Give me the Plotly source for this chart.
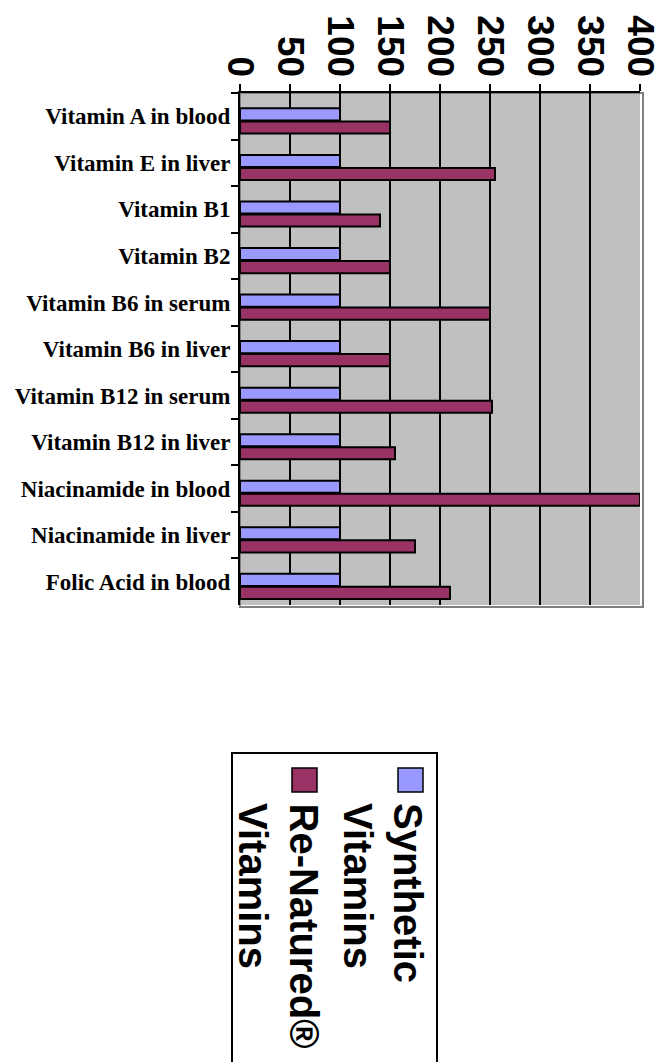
import plotly.graph_objects as go

categories = [
    "Vitamin A in blood", "Vitamin E in liver", "Vitamin B1", "Vitamin B2",
    "Vitamin B6 in serum", "Vitamin B6 in liver", "Vitamin B12 in serum",
    "Vitamin B12 in liver", "Niacinamide in blood", "Niacinamide in liver",
    "Folic Acid in blood",
]
synthetic = [100, 100, 100, 100, 100, 100, 100, 100, 100, 100, 100]
renatured = [150, 255, 140, 150, 250, 150, 252, 155, 400, 175, 210]
tick_vals = [0, 50, 100, 150, 200, 250, 300, 350, 400]
series_names = ["Synthetic", "Re-Natured®"]
legend_lines = [["Synthetic", "Vitamins"], ["Re-Natured®", "Vitamins"]]

BLUE = "#9999FF"
MAROON = "#993366"
OFF = 8  # page body margin
W, H = 667 - OFF, 1062 - OFF
# plot area in screen pixels
SL, SR, ST, SB = 240, 640, 93, 605
L, R, T, B = SL - OFF, SR - OFF, ST - OFF, SB - OFF


def px(x):
    return (x - SL) / (SR - SL)


def py(y):
    return (SB - y) / (SB - ST)


fig = go.Figure()
fig.add_trace(go.Bar(y=categories, x=synthetic, orientation="h", name=series_names[0],
                     width=0.26, offset=-0.17,
                     marker=dict(color=BLUE, line=dict(color="black", width=2))))
fig.add_trace(go.Bar(y=categories, x=renatured, orientation="h", name=series_names[1],
                     width=0.26, offset=0.11,
                     marker=dict(color=MAROON, line=dict(color="black", width=2))))

fig.update_layout(
    width=W, height=H,
    margin=dict(l=L, r=W - R, t=T, b=H - B, pad=0, autoexpand=False),
    paper_bgcolor="white", plot_bgcolor="#C0C0C0",
    barmode="group",
    showlegend=False,
    xaxis=dict(side="top", range=[0, 400], tickvals=tick_vals, automargin=False,
               ticktext=[str(v) for v in tick_vals], tickangle=90,
               tickfont=dict(family="Liberation Sans", size=37, color="black", weight="bold"),
               ticks="outside", ticklen=7, tickwidth=2, tickcolor="black",
               ticklabelstandoff=-6,
               showgrid=True, gridcolor="black", gridwidth=2,
               showline=True, linecolor="black", linewidth=2, zeroline=False),
    yaxis=dict(autorange="reversed", type="category", tickson="boundaries", automargin=False,
               ticks="outside", ticklen=7, tickwidth=2, tickcolor="black",
               tickfont=dict(family="Liberation Serif", size=23, color="black", weight="bold"),
               showline=True, linecolor="black", linewidth=2, showgrid=False,
               ticklabelstandoff=3),
)

shapes = []
# plot wall border
shapes.append(dict(type="rect", xref="paper", yref="paper", x0=0, x1=px(643), y0=py(607), y1=1,
                   line=dict(color="#808080", width=2), layer="below"))
# legend box
shapes.append(dict(type="rect", xref="paper", yref="paper", x0=px(232), x1=px(437),
                   y0=py(1080), y1=py(753), line=dict(color="black", width=2),
                   fillcolor="rgba(0,0,0,0)"))
# legend markers
for (x0, x1), col in [((398, 423), BLUE), ((292, 317), MAROON)]:
    shapes.append(dict(type="rect", xref="paper", yref="paper", x0=px(x0), x1=px(x1),
                       y0=py(792), y1=py(768), line=dict(color="black", width=1.5),
                       fillcolor=col))
fig.update_layout(shapes=shapes)

annotations = []
line_x = [[408, 358], [304, 253]]
for lines, xs in zip(legend_lines, line_x):
    for text, xc in zip(lines, xs):
        annotations.append(dict(text=text, xref="paper", yref="paper", x=px(xc), y=py(801),
                                xanchor="center", yanchor="top", textangle=90, showarrow=False,
                                font=dict(family="Liberation Sans", size=40, color="black",
                                          weight="bold")))
fig.update_layout(annotations=annotations)

fig.write_html("out.html")
